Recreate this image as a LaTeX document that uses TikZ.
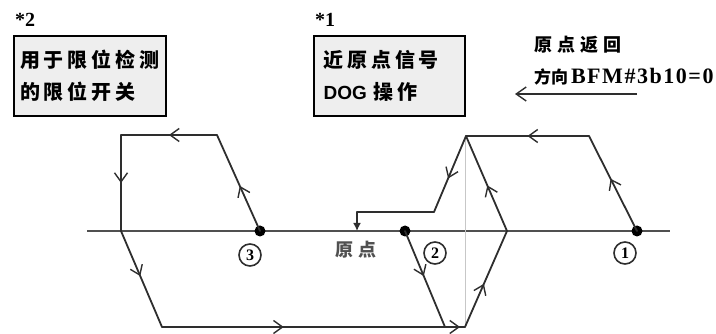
\documentclass[tikz,border=0pt]{standalone}
\usepackage{fontspec}
\setmainfont{Liberation Serif}
\newfontfamily\cjk[LetterSpace=19]{Noto Sans CJK SC}
\newfontfamily\cjkw[LetterSpace=28]{Noto Sans CJK SC}
\newfontfamily\cjkn{Noto Sans CJK SC}
\newfontfamily\arl{Liberation Sans}
\newfontfamily\tmsw[LetterSpace=7]{Liberation Serif}
\usetikzlibrary{arrows.meta,decorations.markings}
\definecolor{ink}{HTML}{2E2E2E}
\definecolor{axisc}{HTML}{505050}
\definecolor{boxfill}{HTML}{EEEEEE}
\tikzset{
  flow/.style={draw=ink, line width=1.8pt, line cap=round, line join=round},
  ar/.style={postaction={decorate}, decoration={markings,
      mark=at position #1 with {\arrow[ink]{Straight Barb[length=9pt,width=13pt,line width=1.4pt]}}}},
  dotnode/.style={circle, fill=black, minimum size=11pt, inner sep=0pt},
  numc/.style={circle, draw=ink, line width=1.6pt, minimum size=22pt, inner sep=0pt,
      font=\bfseries\fontsize{16}{16}\selectfont},
  infobox/.style={draw=black, line width=2.4pt, fill=boxfill, anchor=north west,
      minimum height=80pt, align=left, font=\cjk\bfseries\fontsize{20}{32}\selectfont},
  label/.style={inner sep=0pt, anchor=west}
}
\begin{document}
\begin{tikzpicture}[x=1pt,y=-1pt]
\useasboundingbox (0,0) rectangle (716,334);
% boxes
\node[label, font=\bfseries\fontsize{20}{20}\selectfont] (s2) at (15,20) {*2};
\node[label, font=\bfseries\fontsize{20}{20}\selectfont] (s1) at (315,20) {*1};
\node[infobox, minimum width=152pt, text width=140pt, inner xsep=5pt] (limbox) at (13,35)
  {用于限位检测\\的限位开关};
\node[infobox, minimum width=151pt, text width=132pt, inner xsep=9pt] (dogbox) at (313,35)
  {近原点信号\\{\arl\bfseries\fontsize{19}{32}\selectfont DOG} 操作};
% direction text
\node[label, font=\cjkw\bfseries\fontsize{18}{18}\selectfont] (dirA) at (534,45) {原点返回};
\node[label, font=\bfseries\fontsize{17}{17}\selectfont] (dirB) at (534,77)
  {{\cjkn 方向}\,{\tmsw\fontsize{22}{22}\selectfont BFM\#3b10=0}};
\coordinate (d1) at (637,94);
\coordinate (d2) at (515,94);
\draw[ink, line width=1.6pt, -{Straight Barb[length=10pt,width=14pt,line width=1.4pt]}] (d1) -- (d2);
% axis
\coordinate (ax1) at (87,231);
\coordinate (ax2) at (670,231);
\draw[axisc, line width=1.8pt] (ax1) -- (ax2);
% faint vertical guide
\coordinate (g1) at (465,136);
\coordinate (g2) at (465,327);
\draw[black!22, line width=0.7pt] (g1) -- (g2);
% vertices
\coordinate (a1) at (217,135);
\coordinate (a2) at (121,135);
\coordinate (a3) at (121,231);
\coordinate (a4) at (162,327);
\coordinate (m2) at (445,327);
\coordinate (b1) at (465,327);
\coordinate (b2) at (507,231);
\coordinate (apex) at (466,136);
\coordinate (r1) at (589,136);
\coordinate (k1) at (434,212);
\coordinate (k2) at (357,212);
\coordinate (orig) at (357,231);
% path segments
\draw[flow, ar=0.5] (a1) -- (a2);
\draw[flow, ar=0.5] (a2) -- (a3);
\draw[flow, ar=0.47] (a3) -- (a4);
\draw[flow, ar=0.43] (a4) -- (m2);
\draw[flow, ar=0.75] (m2) -- (b1);
\draw[flow, ar=0.45] (b1) -- (b2);
\draw[flow, ar=0.48] (b2) -- (apex);
\draw[flow, ar=0.5] (r1) -- (apex);
\draw[flow, ar=0.56] (apex) -- (k1);
\draw[flow] (k1) -- (k2);
\draw[flow, -{Latex[length=8pt,width=8pt]}] (k2) -- (orig);
% dots
\node[dotnode] (p3) at (260,231) {};
\node[dotnode] (p2) at (405,231) {};
\node[dotnode] (p1) at (637,231) {};
\draw[flow, ar=0.47] (p3.center) -- (a1);
\draw[flow, ar=0.47] (p2.center) -- (m2);
\draw[flow, ar=0.55] (p1.center) -- (r1);
% labels
\node[numc] (n3) at (250,255) {3};
\node[numc] (n2) at (435,253) {2};
\node[numc] (n1) at (625,253) {1};
\node[label, text=axisc, font=\cjkw\bfseries\fontsize{18}{18}\selectfont] (origlab) at (335,250) {原点};
\end{tikzpicture}
\end{document}
